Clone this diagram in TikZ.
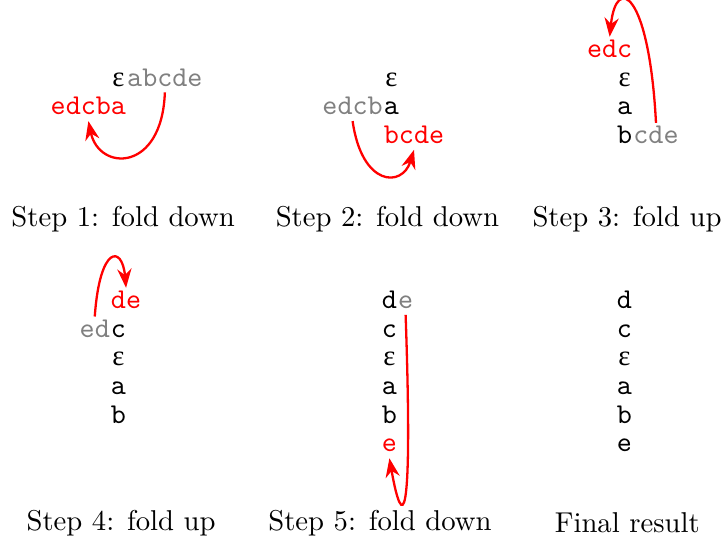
\documentclass[tikz,border=0pt]{standalone}
\usepackage{amssymb,amsmath}
\usepackage{fontspec}
\newfontfamily\epsfont{Liberation Serif}
\usetikzlibrary{positioning, arrows.meta}
\newcommand{\eps}{{\epsfont ε}}
\tikzset{
    on grid,
    node distance=10pt,
    cell/.style={font=\ttfamily, inner sep=0pt, minimum width=5.25pt, text height=7pt, text depth=2pt},
    faded/.style={cell, gray},
    folded/.style={cell, red},
    fold/.style={-{Stealth}, red, thick},
    caption/.style={inner sep=0pt},
}

\begin{document}
\begin{tikzpicture}
    \useasboundingbox (0,0) rectangle (252.3pt,-189.9pt);

    % step 1
    \node[cell] (s1eps) at (41.3pt,-27.5pt) {\eps};
    \node[faded, anchor=west] (s1abcde) at (s1eps.east) {abcde};
    \node[folded, anchor=east] (s1edcba) at ([yshift=-10pt]s1eps.east) {edcba};

    % step 2
    \node[cell] (s2eps) at (136.4pt,-27.5pt) {\eps};
    \node[cell, below=of s2eps] (s2a) {a};
    \node[faded, anchor=east] (s2edcb) at (s2a.west) {edcb};
    \node[folded, anchor=west] (s2bcde) at ([yshift=-10pt]s2a.west) {bcde};

    % step 3
    \node[cell] (s3eps) at (217.7pt,-27.5pt) {\eps};
    \node[folded, anchor=east] (s3edc) at ([yshift=10pt]s3eps.east) {edc};
    \node[cell, below=of s3eps] (s3a) {a};
    \node[cell, below=of s3a] (s3b) {b};
    \node[faded, anchor=west] (s3cde) at (s3b.east) {cde};

    % step 4
    \node[cell] (s4eps) at (41.3pt,-125pt) {\eps};
    \node[cell, above=of s4eps] (s4c) {c};
    \node[faded, anchor=east] (s4ed) at (s4c.west) {ed};
    \node[folded, anchor=west] (s4de) at ([yshift=10pt]s4c.west) {de};
    \node[cell, below=of s4eps] (s4a) {a};
    \node[cell, below=of s4a] (s4b) {b};

    % step 5
    \node[cell] (s5eps) at (135.7pt,-125pt) {\eps};
    \node[cell, above=of s5eps] (s5c) {c};
    \node[cell, above=of s5c] (s5d) {d};
    \node[faded, anchor=west] (s5e) at (s5d.east) {e};
    \node[cell, below=of s5eps] (s5a) {a};
    \node[cell, below=of s5a] (s5b) {b};
    \node[folded, below=of s5b] (s5last) {e};

    % final result
    \node[cell] (s6eps) at (217.6pt,-125pt) {\eps};
    \node[cell, above=of s6eps] (s6c) {c};
    \node[cell, above=of s6c] (s6d) {d};
    \node[cell, below=of s6eps] (s6a) {a};
    \node[cell, below=of s6a] (s6b) {b};
    \node[cell, below=of s6b] (s6e) {e};

    % folds
    \draw[fold] (s1abcde.south) .. controls +(-92:28pt) and +(-78:18pt) .. (s1edcba.south);
    \draw[fold] (s2edcb.south) .. controls +(-82:23pt) and +(-107:14pt) .. (s2bcde.south);
    \draw[fold] (s3cde.north) .. controls +(93:46pt) and +(84:22pt) .. (s3edc.north);
    \draw[fold] (s4ed.north) .. controls +(86:25pt) and +(95:15pt) .. (s4de.north);
    \draw[fold] (s5e.south) .. controls +(-88:75pt) and +(-80:26pt) .. (s5last.south);

    % captions
    \node[caption] (cap1) at (42.9pt,-76.4pt) {Step 1: fold down};
    \node[caption] (cap2) at (135.0pt,-76.4pt) {Step 2: fold down};
    \node[caption] (cap3) at (218.5pt,-76.4pt) {Step 3: fold up};
    \node[caption] (cap4) at (42.2pt,-182.2pt) {Step 4: fold up};
    \node[caption] (cap5) at (132.4pt,-182.2pt) {Step 5: fold down};
    \node[caption] (cap6) at (218.6pt,-182.2pt) {Final result};
\end{tikzpicture}
\end{document}
